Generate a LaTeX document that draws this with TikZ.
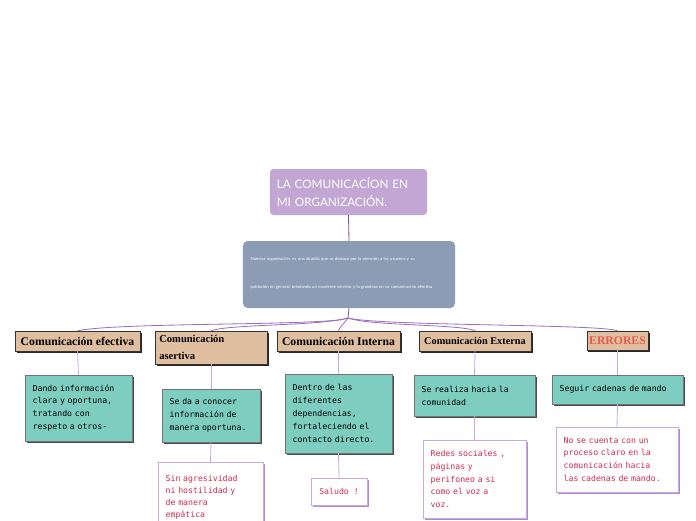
\documentclass[tikz,border=0pt]{standalone}
\usepackage{fontspec}
\setmainfont{Liberation Serif}
\newfontfamily\titulofont{Lato}
\newfontfamily\letramono{DejaVu Sans Mono}
\usepackage{tikz}
\usetikzlibrary{positioning, shadows, calc}
\definecolor{lilaTit}{HTML}{C2A6D3}
\definecolor{grisAzul}{HTML}{8B9CB4}
\definecolor{tanEnc}{HTML}{E0BFA0}
\definecolor{verdeAg}{HTML}{7DCDC0}
\definecolor{moradoCon}{HTML}{9C6CC2}
\definecolor{lilaCon}{HTML}{C8ABDB}
\definecolor{rojoTxt}{HTML}{D32A4E}
\definecolor{rojoErr}{HTML}{E65A4B}

\begin{document}
\begin{tikzpicture}[x=0.03cm, y=-0.03cm,
    encabezado/.style={draw=black!80, fill=tanEnc, inner sep=2pt,
      font=\bfseries\fontsize{10}{12}\selectfont,
      drop shadow={shadow xshift=1.3pt, shadow yshift=-1.3pt, fill=black!85, opacity=1}},
    cajaverde/.style={draw=black!55, fill=verdeAg, align=left, inner xsep=6pt,
      font=\letramono\fontsize{7}{11}\selectfont,
      drop shadow={shadow xshift=1.3pt, shadow yshift=-1.3pt, fill=black!70, opacity=1}},
    cajablanca/.style={draw=lilaCon, fill=white, align=left, inner xsep=6pt,
      text=rojoTxt, font=\letramono\fontsize{7}{11}\selectfont,
      drop shadow={shadow xshift=1.3pt, shadow yshift=-1.3pt, fill=moradoCon!80, opacity=1}},
    conector/.style={lilaCon, line width=0.7pt},
    rama/.style={moradoCon, line width=0.7pt}]
  \useasboundingbox (0,0) rectangle (696,520);

  % Idea central
  \node[fill=lilaTit, rounded corners=3pt, minimum width=4.71cm, minimum height=1.38cm,
        text width=4.3cm, align=left, text=white,
        font=\titulofont\fontsize{10}{15}\selectfont] (titulo) at (348.5,192)
        {LA COMUNICACÍON EN\\MI ORGANIZACIÓN.};

  % Descripcion
  \node[fill=grisAzul, rounded corners=4pt, minimum width=6.36cm, minimum height=2.01cm,
        text width=5.9cm, align=left, text=white,
        font=\titulofont\fontsize{3.6}{4}\selectfont] (desc) at (349,274.5)
        {\\[-4pt]Nuestra organización, es una alcaldía que se destaca por la atención a los usuarios y su\\[20pt]
         población en general, brindando un excelente servicio y la grandeza en su comunicación efectiva};
  \draw[rama, moradoCon!80!black] (titulo.south) -- (desc.north);
  \coordinate (nudo) at (348,318);
  \draw[rama, moradoCon!80!black] (desc.south) -- (nudo);

  % Encabezados
  \node[encabezado, minimum width=3.75cm, minimum height=0.6cm] (efectiva) at (77.5,341)
        {Comunicación efectiva};
  \node[encabezado, minimum width=3.36cm, minimum height=0.99cm, text width=3.1cm, align=left,
        font=\bfseries\fontsize{9}{14}\selectfont] (asertiva) at (211,347.5)
        {Comunicación\\asertiva};
  \node[encabezado, minimum width=3.69cm, minimum height=0.6cm] (interna) at (338.5,341)
        {Comunicación Interna};
  \node[encabezado, minimum width=3.36cm, minimum height=0.6cm,
        font=\bfseries\fontsize{8.8}{12}\selectfont] (externa) at (475,341)
        {Comunicación Externa};
  \node[encabezado, minimum width=1.83cm, minimum height=0.57cm, text=rojoErr] (errores) at (617.5,340.5)
        {ERRORES};

  % Ramas desde el nudo
  \draw[rama] (nudo) .. controls (330,326) and (120,322) .. (efectiva.north);
  \draw[rama] (nudo) .. controls (320,326) and (230,324) .. (asertiva.north);
  \draw[rama] (nudo) .. controls (344,324) and (340,326) .. (interna.north);
  \draw[rama] (nudo) .. controls (370,326) and (460,324) .. (externa.north);
  \draw[rama] (nudo) .. controls (380,326) and (600,324) .. (errores.north);

  % Cajas verdes
  \node[cajaverde, minimum width=3.21cm, minimum height=1.98cm, text width=2.75cm] (v1) at (78.5,408)
        {Dando información\\clara y oportuna,\\tratando con\\respeto a otros-};
  \node[cajaverde, minimum width=2.94cm, minimum height=1.59cm, text width=2.48cm] (v2) at (211,415.5)
        {Se da a conocer\\información de\\manera oportuna.};
  \node[cajaverde, minimum width=3.21cm, minimum height=2.37cm, text width=2.75cm] (v3) at (338.5,413.5)
        {Dentro de las\\diferentes\\dependencias,\\fortaleciendo el\\contacto directo.};
  \node[cajaverde, minimum width=3.63cm, minimum height=1.23cm, text width=3.17cm] (v4) at (474.5,395.5)
        {Se realiza hacia la\\comunidad};
  \node[cajaverde, minimum width=3.93cm, minimum height=0.87cm, text width=3.47cm] (v5) at (617.5,389.5)
        {Seguir cadenas de mando};
  \foreach \a/\b in {efectiva/v1, asertiva/v2, interna/v3, externa/v4, errores/v5}{
    \draw[conector] (\a.south) -- (\b.north);
  }

  % Cajas blancas
  \node[cajablanca, anchor=north, minimum width=3.15cm, minimum height=2.1cm, text width=2.69cm,
        inner ysep=3pt, font=\letramono\fontsize{7}{10}\selectfont] (b2) at (210.5,462)
        {Sin agresividad\\ni hostilidad y\\de manera\\empática};
  \node[cajablanca, minimum width=1.68cm, minimum height=0.81cm, align=center] (b3) at (339,491.5)
        {Saludo !};
  \node[cajablanca, minimum width=3.09cm, minimum height=2.34cm, text width=2.63cm] (b4) at (474.5,479)
        {Redes sociales ,\\páginas y\\perifoneo a si\\como el voz a\\voz.};
  \node[cajablanca, minimum width=3.66cm, minimum height=1.95cm, text width=3.2cm] (b5) at (617,459.5)
        {No se cuenta con un\\proceso claro en la\\comunicación hacia\\las cadenas de mando.};
  \foreach \a/\b in {v2/b2, v3/b3, v4/b4, v5/b5}{
    \draw[conector] (\a.south) -- (\b.north);
  }
\end{tikzpicture}
\end{document}
